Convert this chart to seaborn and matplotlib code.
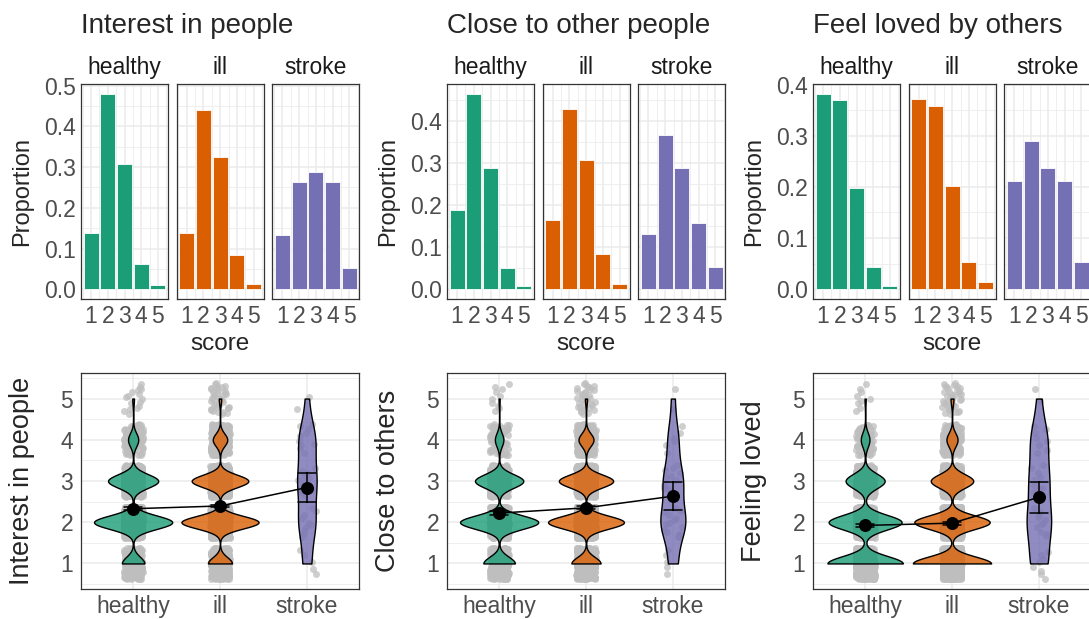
import numpy as np
import pandas as pd
import matplotlib.pyplot as plt
import seaborn as sns
from matplotlib.ticker import MultipleLocator, FixedLocator, FormatStrFormatter
from matplotlib.colors import to_rgba

sns.set_style("white")
plt.rcParams["font.family"] = ["Liberation Sans", "DejaVu Sans"]

# Data
groups = ["healthy", "ill", "stroke"]
scores = [1, 2, 3, 4, 5]
group_n = [1500, 2800, 38]          # estimated sample sizes
titles = ["Interest in people", "Close to other people", "Feel loved by others"]
violin_ylabels = ["Interest in people", "Close to others", "Feeling loved"]
palette = ["#1B9E77", "#D95F02", "#7570B3"]

# proportion of each score (1..5) per group
interest_healthy = [0.138, 0.480, 0.308, 0.063, 0.011]
interest_ill = [0.138, 0.441, 0.324, 0.083, 0.014]
interest_stroke = [0.132, 0.263, 0.289, 0.263, 0.053]

close_healthy = [0.188, 0.466, 0.288, 0.051, 0.007]
close_ill = [0.165, 0.430, 0.308, 0.085, 0.012]
close_stroke = [0.132, 0.368, 0.289, 0.158, 0.053]

loved_healthy = [0.382, 0.370, 0.198, 0.044, 0.006]
loved_ill = [0.372, 0.359, 0.202, 0.053, 0.014]
loved_stroke = [0.211, 0.289, 0.237, 0.211, 0.053]

items = [
    [interest_healthy, interest_ill, interest_stroke],
    [close_healthy, close_ill, close_stroke],
    [loved_healthy, loved_ill, loved_stroke],
]


def expand(props_by_group):
    # turn proportions back into individual responses
    parts = []
    for g, n, props in zip(groups, group_n, props_by_group):
        counts = np.rint(np.array(props) * n).astype(int)
        parts.append(pd.DataFrame({"group": g, "score": np.repeat(scores, counts)}))
    df = pd.concat(parts, ignore_index=True)
    # vertical jitter for the grey points (evenly spread, like geom_jitter)
    k = np.arange(len(df))
    df["score_jit"] = df["score"] + ((k * 0.6180339887) % 1 - 0.5) * 0.76
    return df


W, H = 1089, 619
fig = plt.figure(figsize=(W / 100, H / 100), dpi=100)


def px_axes(left, top, width, height):
    return fig.add_axes([left / W, 1 - (top + height) / H, width / W, height / H])


def style(ax):
    for s in ax.spines.values():
        s.set_visible(True)
        s.set_color("#333333")
        s.set_linewidth(0.9)
    ax.tick_params(which="major", length=2.6, width=0.9, color="#333333",
                   labelcolor="#4D4D4D", labelsize=16.5, pad=1.5)
    ax.tick_params(which="minor", length=0)
    ax.grid(which="major", color="#EBEBEB", linewidth=1.1)
    ax.grid(which="minor", color="#EBEBEB", linewidth=0.55)
    ax.set_axisbelow(True)
    ax.set_xlabel("")
    ax.set_ylabel("")


group_left = [81, 447, 813]
facet_step, facet_w = 95.7, 87
top_y, top_h = 84, 215
bot_y, bot_h, bot_w = 373, 216, 278

for i, (title, props_by_group) in enumerate(zip(titles, items)):
    left = group_left[i]
    ymax = max(max(p) for p in props_by_group)

    fig.text(left / W, 1 - 33 / H, title, fontsize=20, ha="left", va="baseline")

    # Top row: bar charts per group
    for j, (g, props) in enumerate(zip(groups, props_by_group)):
        fl = left + j * facet_step
        ax = px_axes(fl, top_y, facet_w, top_h)
        sns.barplot(x=scores, y=props, color=palette[j], width=0.9,
                    edgecolor="white", linewidth=0.6, saturation=1, ax=ax)
        style(ax)
        ax.set_xlim(-0.6, 4.6)
        ax.xaxis.set_minor_locator(FixedLocator([k - 0.5 for k in range(6)]))
        ax.set_ylim(-0.05 * ymax, 1.05 * ymax)
        ax.yaxis.set_major_locator(MultipleLocator(0.1))
        ax.yaxis.set_minor_locator(MultipleLocator(0.05))
        ax.yaxis.set_major_formatter(FormatStrFormatter("%.1f"))
        ax.tick_params(axis="y", pad=1)
        if j > 0:
            ax.tick_params(axis="y", left=False, labelleft=False)
        fig.text((fl + facet_w / 2) / W, 1 - 74 / H, g, fontsize=16.5,
                 ha="center", va="baseline", color="#1A1A1A")

    fig.text((left - 59) / W, 1 - (top_y + top_h / 2) / H, "Proportion",
             rotation=90, fontsize=17, ha="center", va="center")
    fig.text((left + bot_w / 2) / W, 1 - 350 / H, "score", fontsize=17.5,
             ha="center", va="baseline")

    # Bottom row: jittered responses, violins and mean with 95% CI
    df = expand(props_by_group)
    ax = px_axes(left, bot_y, bot_w, bot_h)

    n0 = len(ax.collections)
    sns.stripplot(data=df, x="group", y="score_jit", order=groups,
                  color="#BEBEBE", jitter=0.11, size=5, alpha=0.75,
                  linewidth=0, ax=ax)
    for c in ax.collections[n0:]:
        c.set_zorder(1)

    n1 = len(ax.collections)
    sns.violinplot(data=df, x="group", y="score", hue="group", order=groups,
                   hue_order=groups, palette=palette, saturation=1, inner=None,
                   cut=0, density_norm="area", common_norm=True, bw_adjust=0.85,
                   width=0.9, gridsize=300, linewidth=1, linecolor="black",
                   legend=False, ax=ax)
    for c in ax.collections[n1:]:
        fc = c.get_facecolor()[0]
        c.set_facecolor(to_rgba(fc, 0.8))
        c.set_edgecolor("black")
        c.set_zorder(2)

    n2 = len(ax.lines)
    sns.pointplot(data=df, x="group", y="score", order=groups, color="black",
                  errorbar=("se", 1.96), capsize=0.2, markersize=8.5,
                  linewidth=1.1, err_kws={"linewidth": 1.1}, ax=ax)
    for ln in ax.lines[n2:]:
        ln.set_zorder(4)

    style(ax)
    ax.set_xlim(-0.6, 2.6)
    ax.set_ylim(0.38, 5.62)
    ax.yaxis.set_major_locator(MultipleLocator(1))
    ax.yaxis.set_minor_locator(MultipleLocator(0.5))
    ax.tick_params(axis="y", pad=3)
    fig.text((left - 59) / W, 1 - (bot_y + bot_h / 2) / H, violin_ylabels[i],
             rotation=90, fontsize=19.5, ha="center", va="center")

fig.savefig("out.png", dpi=100)
